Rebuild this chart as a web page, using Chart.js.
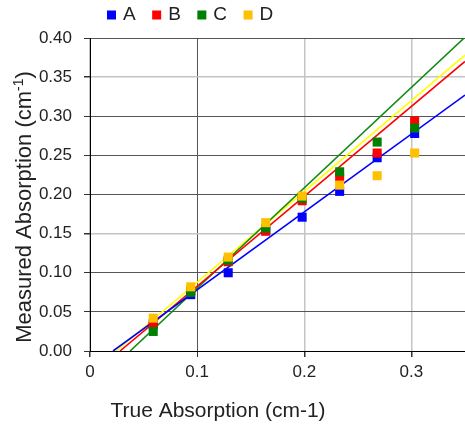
<!DOCTYPE html>
<html>
<head>
<meta charset="utf-8">
<title>Measured vs True Absorption</title>
<script src="https://cdn.jsdelivr.net/npm/chart.js@4.4.1/dist/chart.umd.min.js"></script>
<style>
  html, body { margin: 0; padding: 0; background: #fff; overflow: hidden; }
  #wrap { width: 465px; height: 425px; position: relative; }
</style>
</head>
<body>
<div id="wrap"><canvas id="chart"></canvas></div>
<script>
// data
const seriesNames = ['A', 'B', 'C', 'D'];
const trueAbs = [0.059, 0.094, 0.129, 0.164, 0.198, 0.233, 0.268, 0.303];
const measuredA = [0.035, 0.072, 0.100, 0.155, 0.171, 0.204, 0.247, 0.278];
const measuredB = [0.033, 0.077, 0.114, 0.153, 0.192, 0.222, 0.253, 0.294];
const measuredC = [0.025, 0.075, 0.116, 0.157, 0.195, 0.229, 0.267, 0.285];
const measuredD = [0.042, 0.082, 0.120, 0.164, 0.198, 0.212, 0.224, 0.253];
// linear trend lines: x where they cross zero, and y at the right edge (x = 0.35)
const trendZeroX = [0.0215, 0.028, 0.0374, 0.0243];
const trendEndY = [0.327, 0.370, 0.401, 0.378];
const trendEndX = 0.35;
const xTicks = [0, 0.1, 0.2, 0.3];
const yTicks = [0, 0.05, 0.10, 0.15, 0.20, 0.25, 0.30, 0.35, 0.40];

const pointColors = ['#0000FF', '#FF0000', '#008000', '#FFC000'];
const lineColors = ['#0000FF', '#FF0000', '#118A11', '#FFFF00'];
const FONT = "'Liberation Sans', Arial, sans-serif";

const measured = [measuredA, measuredB, measuredC, measuredD];

const pointSets = seriesNames.map((name, i) => ({
  label: name,
  data: trueAbs.map((x, j) => ({ x: x, y: measured[i][j] })),
  backgroundColor: pointColors[i],
  borderWidth: 0,
  pointStyle: 'rect',
  pointRadius: 6.4,
  order: 4 - i // D drawn on top
}));

const trendSets = seriesNames.map((name, i) => ({
  label: '',
  data: [{ x: trendZeroX[i], y: 0 }, { x: trendEndX, y: trendEndY[i] }],
  showLine: true,
  borderColor: lineColors[i],
  borderWidth: 1.6,
  pointRadius: 0,
  order: 10 + i
}));

// axis titles drawn by hand so they sit where the reference has them
const axisTitles = {
  id: 'axisTitles',
  afterDraw(chart) {
    const ctx = chart.ctx;
    ctx.save();
    ctx.fillStyle = '#222';
    ctx.textBaseline = 'alphabetic';

    ctx.font = '21px ' + FONT;
    ctx.textAlign = 'center';
    ctx.fillText('True Absorption (cm-1)', 218, 417);

    const main = 'Measured Absorption (cm';
    const sup = '-1';
    const tail = ')';
    ctx.font = '22px ' + FONT;
    const w1 = ctx.measureText(main).width;
    const w3 = ctx.measureText(tail).width;
    ctx.font = '14px ' + FONT;
    const w2 = ctx.measureText(sup).width;
    const total = w1 + w2 + w3;
    ctx.translate(31, 207);
    ctx.rotate(-Math.PI / 2);
    ctx.textAlign = 'left';
    let x = -total / 2;
    ctx.font = '22px ' + FONT;
    ctx.fillText(main, x, 0);
    x += w1;
    ctx.font = '14px ' + FONT;
    ctx.fillText(sup, x, -8);
    x += w2;
    ctx.font = '22px ' + FONT;
    ctx.fillText(tail, x, 0);
    ctx.restore();
  }
};

// move the legend to the top left like in the reference
const legendShift = {
  id: 'legendShift',
  afterLayout(chart) {
    const lg = chart.legend;
    if (!lg) return;
    lg.left = 90.5;
    lg.right = 465;
    lg.top = -13.5;
    lg.bottom = lg.top + lg.height;
  }
};

const lightY = [0.15, 0.35];

new Chart(document.getElementById('chart').getContext('2d'), {
  type: 'scatter',
  data: { datasets: pointSets.concat(trendSets) },
  options: {
    responsive: true,
    maintainAspectRatio: false,
    animation: false,
    events: [],
    // legend box is 48px tall, pull it up so the plot starts at y = 38
    layout: { autoPadding: false, padding: { top: -10, right: 0, left: 0, bottom: 0 } },
    plugins: {
      tooltip: { enabled: false },
      legend: {
        position: 'top',
        align: 'start',
        labels: {
          filter: item => item.datasetIndex < 4,
          sort: (a, b) => a.datasetIndex - b.datasetIndex,
          usePointStyle: true,
          pointStyle: 'rect',
          boxWidth: 4,
          boxHeight: 9,
          padding: 19,
          color: '#222',
          font: { family: FONT, size: 19 }
        }
      }
    },
    scales: {
      x: {
        type: 'linear',
        min: 0,
        max: 0.35,
        afterBuildTicks: axis => { axis.ticks = xTicks.map(v => ({ value: v })); },
        afterFit: axis => { axis.height = 74; },
        ticks: {
          autoSkip: false,
          maxRotation: 0,
          padding: 5,
          color: '#222',
          font: { family: FONT, size: 17 },
          callback: v => v === 0 ? '0' : v.toFixed(1)
        },
        grid: {
          color: c => c.tick && c.tick.value === 0.1 ? '#555' : '#c4c4c4',
          lineWidth: c => c.tick && c.tick.value === 0.1 ? 1 : 1.5,
          tickColor: '#333',
          tickLength: 6
        },
        border: { color: '#000', width: 1 }
      },
      y: {
        min: 0,
        max: 0.4,
        afterBuildTicks: axis => { axis.ticks = yTicks.map(v => ({ value: v })); },
        afterFit: axis => { axis.width = 90; },
        ticks: {
          padding: 12,
          color: '#222',
          font: { family: FONT, size: 17 },
          callback: v => v.toFixed(2)
        },
        grid: {
          color: c => c.tick && lightY.includes(c.tick.value) ? '#c4c4c4' : '#555',
          lineWidth: c => c.tick && lightY.includes(c.tick.value) ? 1.5 : 1,
          tickColor: '#333',
          tickLength: 6
        },
        border: { color: '#000', width: 1 }
      }
    }
  },
  plugins: [legendShift, axisTitles]
});
</script>
</body>
</html>
